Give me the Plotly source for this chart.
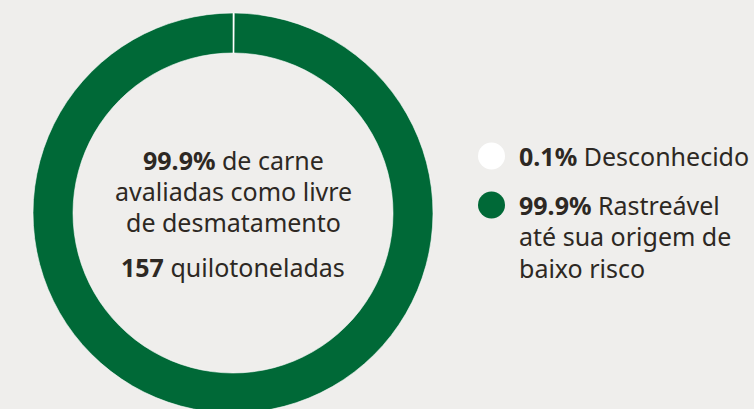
import plotly.graph_objects as go

W, H = 754, 426  # figure taller than window; bottom of the ring falls below the fold
BG = "#efeeec"
GREEN = "#006937"
TEXT = "#2d2823"
FONT = "Noto Sans"
FS = 25

labels = ["Desconhecido", "Rastreável até sua origem de baixo risco"]
values = [0.1, 99.9]
colors = ["#ffffff", GREEN]
center_lines = [
    "<b>99.9%</b> de carne",
    "avaliadas como livre",
    "de desmatamento",
    "<b>157</b> quilotoneladas",
]
legend_lines = [
    "<b>0.1%</b> Desconhecido",
    "<b>99.9%</b> Rastreável",
    "até sua origem de",
    "baixo risco",
]

fig = go.Figure()

cx, r = 233, 200
fig.add_trace(go.Pie(
    labels=labels, values=values, sort=False, direction="clockwise",
    hole=0.8, marker=dict(colors=colors, line=dict(color="#ffffff", width=0.6)),
    textinfo="none", hoverinfo="label+percent", showlegend=False,
    domain=dict(x=[(cx - r) / W, (cx + r) / W], y=[0, 1]),
))

leg_x = [491.5, 491.5]
leg_y = [156, 205]
fig.add_trace(go.Scatter(
    x=leg_x, y=leg_y, mode="markers",
    marker=dict(size=27, color=colors, line=dict(width=0)),
    hoverinfo="skip", showlegend=False,
))

fig.update_xaxes(range=[0, W], visible=False, fixedrange=True)
fig.update_yaxes(range=[H, 0], visible=False, fixedrange=True)

ann = []
for t, y in zip(center_lines, [160, 191, 222, 267]):
    ann.append(dict(x=cx, y=y, text=t, xanchor="center", align="center"))
for t, y in zip(legend_lines, [156, 205, 236, 268]):
    ann.append(dict(x=517, y=y, text=t, xanchor="left", align="left"))
for a in ann:
    a.update(showarrow=False, yanchor="middle",
             font=dict(family=FONT, size=FS, color=TEXT))

fig.update_layout(
    width=W, height=H, margin=dict(l=0, r=0, t=0, b=0),
    paper_bgcolor=BG, plot_bgcolor=BG, annotations=ann,
)

fig.write_html(
    "out.html",
    config={"displayModeBar": False},
    post_script=(
        "document.body.style.margin='0';"
        "document.body.style.background='%s';"
        "document.documentElement.style.overflow='hidden';" % BG
    ),
)
